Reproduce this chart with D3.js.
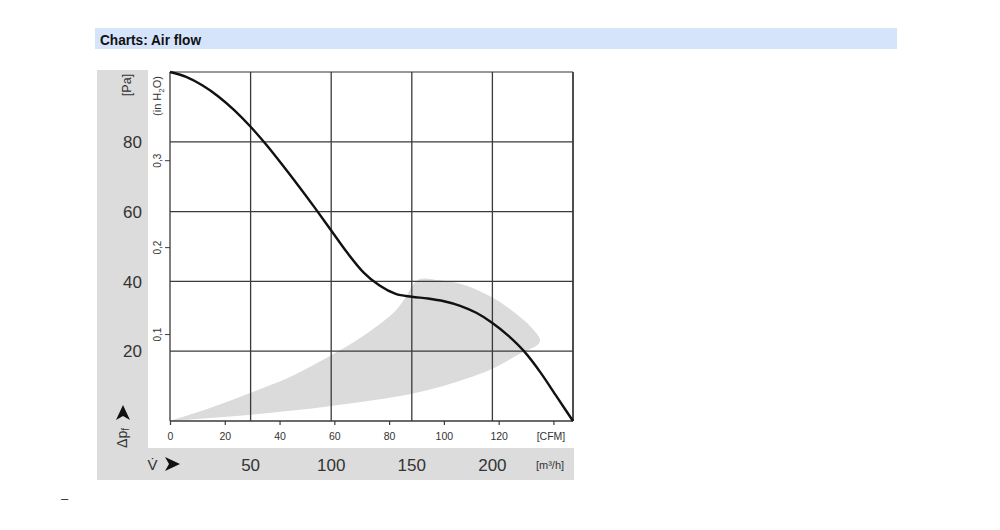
<!DOCTYPE html>
<html><head><meta charset="utf-8">
<script src="https://cdn.jsdelivr.net/npm/d3@7"></script>
<style>body{margin:0;background:#fff}svg{display:block;font-family:"Liberation Sans",Arial,sans-serif}</style>
</head><body><svg id="c" width="1000" height="530"></svg>
<script>
// ---- data ----
const curveQ = [0,10,20,30,40,50,60,70,80,90,100,110,120,130,140,150,160,170,180,190,200,210,220,230,240,250]; // m³/h
const curveP = [100,98.6,96.2,93,89,84.3,79,73.2,67.2,61,54.6,48.2,42.6,38.8,36.4,35.6,35.1,34.3,33,31,28.1,24.4,19.8,13.8,6.9,0]; // Pa
const shadeLowerQ = [0,50,100,150,175,200,215,229.5];
const shadeLowerP = [0,1.8,4.3,7.8,10.8,15,18.8,22.8];
const shadeUpperQ = [223.3,217.1,204.7,192.3,179.9,167.5,155.1,150.7,145.8,138.3,117.9,100.3,74.4,49.6,24.8,0];
const shadeUpperP = [27.2,29.8,34.1,37.2,39.3,40.3,40.7,39,35.2,30.9,23.8,18.9,12.6,8.0,3.7,0];
const gridQ = [0,50,100,150,200,250];
const gridP = [0,20,40,60,80,100];
const paTicks = [20,40,60,80];
const inH2OTicks = [0.1,0.2,0.3];
const inH2OLabels = ["0,1","0,2","0,3"];
const cfmTicks = [0,20,40,60,80,100,120,140];
const cfmLabels = ["0","20","40","60","80","100","120","[CFM]"];
const m3hTicks = [50,100,150,200];
const PA_PER_INH2O = 249.09, M3H_PER_CFM = 1.699;

const svg = d3.select("#c");
const x = d3.scaleLinear().domain([0,250]).range([170,573]);
const y = d3.scaleLinear().domain([0,100]).range([421,72]);
const xc = d3.scaleLinear().domain([0,250/M3H_PER_CFM]).range([170,573]);
const yi = d3.scaleLinear().domain([0,100/PA_PER_INH2O]).range([421,72]);

// title bar
svg.append("rect").attr("x",95).attr("y",28).attr("width",802).attr("height",21).attr("fill","#d6e4fb");
svg.append("text").attr("x",100).attr("y",44.5).attr("font-size",14.5).attr("font-weight","bold")
  .attr("fill","#111").attr("textLength",101).attr("lengthAdjust","spacingAndGlyphs").text("Charts: Air flow");

// gray panels
svg.append("rect").attr("x",97).attr("y",70).attr("width",51).attr("height",410).attr("fill","#dcdcdc");
svg.append("rect").attr("x",97).attr("y",448).attr("width",477).attr("height",32).attr("fill","#dcdcdc");

// shaded region
const pts = shadeLowerQ.map((q,i)=>[q,shadeLowerP[i]]).concat(shadeUpperQ.map((q,i)=>[q,shadeUpperP[i]]));
svg.append("path").attr("d", d3.line().x(d=>x(d[0])).y(d=>y(d[1])).curve(d3.curveCatmullRom)(pts)+"Z")
  .attr("fill","#dbdbdc");

// grid
svg.append("g").selectAll("line").data(gridP).join("line")
  .attr("x1",x(0)).attr("x2",x(250)).attr("y1",d=>y(d)).attr("y2",d=>y(d))
  .attr("stroke",d=>d===100?"#777":"#3a3a3a").attr("stroke-width",1.3);
svg.append("g").selectAll("line").data(gridQ).join("line")
  .attr("y1",y(0)).attr("y2",y(100)).attr("x1",d=>x(d)).attr("x2",d=>x(d))
  .attr("stroke","#3a3a3a").attr("stroke-width",d=>d===250?1.8:1.3);

// CFM axis (ticks below plot)
const cfmAxis = d3.axisBottom(xc).tickValues(cfmTicks).tickSize(4).tickPadding(8)
  .tickFormat((d,i)=>cfmLabels[i]);
const gc = svg.append("g").attr("transform",`translate(0,${y(0)})`).call(cfmAxis);
gc.select(".domain").remove();
gc.selectAll("line").attr("stroke","#3a3a3a").attr("stroke-width",1.2);
gc.selectAll("text").attr("font-size",10.5).attr("fill","#333").attr("font-family","Liberation Sans,Arial,sans-serif")
  .attr("dx",(d,i)=>i===7?-3:0);

// inH2O axis (ticks left of plot)
const inAxis = d3.axisLeft(yi).tickValues(inH2OTicks).tickSize(5).tickFormat((d,i)=>inH2OLabels[i]);
const gi = svg.append("g").attr("transform",`translate(${x(0)},0)`).call(inAxis);
gi.select(".domain").remove();
gi.selectAll("line").attr("stroke","#3a3a3a").attr("stroke-width",1);
gi.selectAll("text").attr("font-size",10).attr("fill","#333").attr("font-family","Liberation Sans,Arial,sans-serif")
  .attr("text-anchor","middle").attr("x",null)
  .attr("transform","translate(-9,0) rotate(-90)").attr("dy","0.35em").attr("y",-4);
svg.append("text").attr("transform","translate(161,96) rotate(-90)").attr("text-anchor","middle")
  .attr("font-size",11).attr("fill","#333")
  .html('(in H<tspan font-size="8" dy="3">2</tspan><tspan dy="-3">O)</tspan>');

// Pa labels
svg.append("g").selectAll("text").data(paTicks).join("text")
  .attr("x",142).attr("y",d=>y(d)).attr("dy","0.36em").attr("text-anchor","end")
  .attr("font-size",17).attr("fill","#333").text(d=>d);
svg.append("text").attr("transform","translate(131,85) rotate(-90)").attr("text-anchor","middle")
  .attr("font-size",12.5).attr("fill","#333").text("[Pa]");

// m³/h labels
svg.append("g").selectAll("text").data(m3hTicks).join("text")
  .attr("x",d=>x(d)).attr("y",465).attr("dy","0.36em").attr("text-anchor","middle")
  .attr("font-size",17).attr("fill","#333").text(d=>d);
svg.append("text").attr("x",550).attr("y",465).attr("dy","0.36em").attr("text-anchor","middle")
  .attr("font-size",11).attr("fill","#333").text("[m³/h]");

// axis names with arrows
svg.append("text").attr("transform","translate(127,438) rotate(-90)").attr("text-anchor","middle")
  .attr("font-size",14).attr("fill","#333")
  .html('Δp<tspan font-size="10" dy="2">f</tspan>');
svg.append("path").attr("d","M123,405 L130,420 L123,416 L116,420 Z").attr("fill","#111");
svg.append("text").attr("x",152.5).attr("y",465).attr("dy","0.36em").attr("text-anchor","middle")
  .attr("font-size",15).attr("fill","#333").text("V\u0307");
svg.append("path").attr("d","M180,464 L165,457 L169,464 L165,471 Z").attr("fill","#111");

// curve
svg.append("path").datum(curveQ.map((q,i)=>[q,curveP[i]]))
  .attr("d", d3.line().x(d=>x(d[0])).y(d=>y(d[1])).curve(d3.curveMonotoneX))
  .attr("fill","none").attr("stroke","#111").attr("stroke-width",2.4);

// stray dash
svg.append("text").attr("x",61).attr("y",503).attr("font-size",13).attr("fill","#333").text("–");
</script></body></html>
